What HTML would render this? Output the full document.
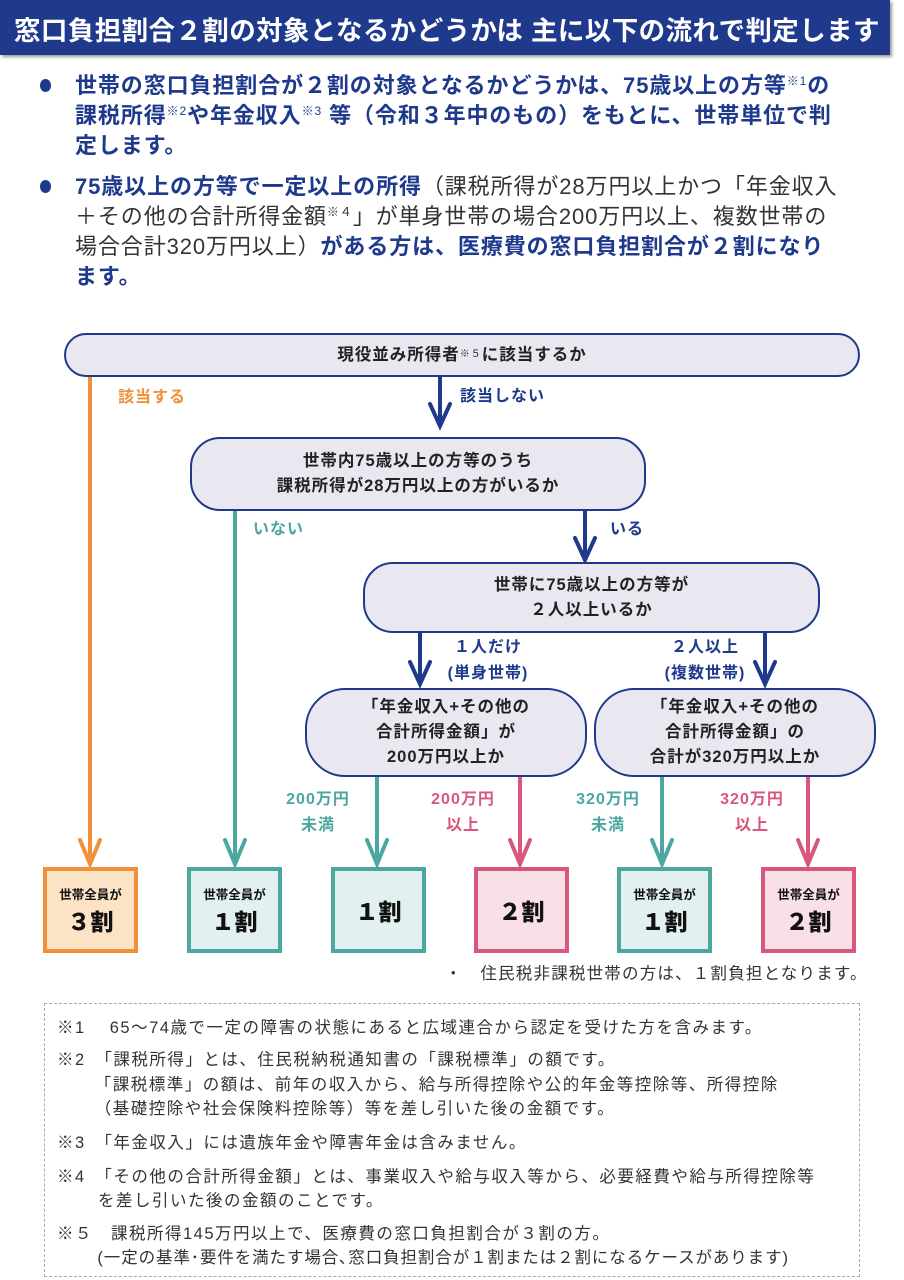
<!DOCTYPE html>
<html><head><meta charset="utf-8"><style>
*{margin:0;padding:0;box-sizing:border-box}
body{width:904px;height:1280px;background:#fff;position:relative;overflow:hidden;font-family:"Liberation Sans","Noto Sans CJK JP",sans-serif}
.a{position:absolute;white-space:nowrap}
.hd{left:0;top:0;width:890px;height:55px;background:#1f3a8c;box-shadow:2px 2px 3px #999}
.hd span{position:absolute;left:14px;top:9px;color:#fff;font-size:26.5px;font-weight:bold;letter-spacing:0.4px}
.b{color:#1f3a8c;font-size:22px;font-weight:bold;letter-spacing:0.9px;line-height:30px}
.n{font-weight:normal;color:#333}
sup{font-size:12px;vertical-align:8px;font-weight:normal;line-height:0}
.dot{width:11px;height:13px;border-radius:50%;background:#1f3a8c}
.box{position:absolute;background:#e9e8f1;border:2px solid #1f3a8c;border-radius:30px;display:flex;align-items:center;justify-content:center;text-align:center;font-weight:bold;font-size:16.5px;color:#222;line-height:25px;letter-spacing:1px}
.lab{position:absolute;font-weight:bold;font-size:16px;text-align:center;line-height:26px;letter-spacing:1px}
.r{position:absolute;top:867px;width:95px;height:86px;border:4px solid;display:flex;flex-direction:column;align-items:center;justify-content:center;font-weight:bold;color:#111}
.r small{font-size:12.5px}
.r b{font-size:23px}
.o{border-color:#f0913a;background:#fde3c6}
.t{border-color:#4ba7a0;background:#e2f1f0}
.p{border-color:#d9577a;background:#f9dfe6}
.fn{position:absolute;left:44px;top:1003px;width:816px;height:274px;border:1.5px dashed #aaa}
.f{position:absolute;font-size:16.5px;letter-spacing:1.5px;color:#333;white-space:nowrap}
</style></head><body>
<div class="a hd"><span>窓口負担割合２割の対象となるかどうかは 主に以下の流れで判定します</span></div>

<div class="a dot" style="left:40px;top:79px"></div>
<div class="a b" style="left:75px;top:71px">世帯の窓口負担割合が２割の対象となるかどうかは、75歳以上の方等<sup>※1</sup>の<br>課税所得<sup>※2</sup>や年金収入<sup>※3</sup> 等（令和３年中のもの）をもとに、世帯単位で判<br>定します。</div>
<div class="a dot" style="left:40px;top:180px"></div>
<div class="a b" style="left:75px;top:172px">75歳以上の方等で一定以上の所得<span class="n">（課税所得が28万円以上かつ「年金収入<br>＋その他の合計所得金額<sup>※４</sup>」が単身世帯の場合200万円以上、複数世帯の<br>場合合計320万円以上）</span>がある方は、医療費の窓口負担割合が２割になり<br>ます。</div>

<svg class="a" style="left:0;top:0" width="904" height="1000">
<g fill="none" stroke-width="4" stroke-linecap="round">
<g stroke="#f0913a"><line x1="90" y1="377" x2="90" y2="862"/><polyline points="80,840 90,864 100,840"/></g>
<g stroke="#4ba7a0"><line x1="235" y1="510" x2="235" y2="862"/><polyline points="225,840 235,864 245,840"/>
<line x1="377" y1="777" x2="377" y2="862"/><polyline points="367,840 377,864 387,840"/>
<line x1="662" y1="777" x2="662" y2="862"/><polyline points="652,840 662,864 672,840"/></g>
<g stroke="#d9577a"><line x1="520" y1="777" x2="520" y2="862"/><polyline points="510,840 520,864 530,840"/>
<line x1="808" y1="777" x2="808" y2="862"/><polyline points="798,840 808,864 818,840"/></g>
<g stroke="#1f3a8c"><line x1="440" y1="377" x2="440" y2="424"/><polyline points="430,404 440,426 450,404"/>
<line x1="585" y1="510" x2="585" y2="558"/><polyline points="575,538 585,560 595,538"/>
<line x1="420" y1="632" x2="420" y2="682"/><polyline points="410,662 420,684 430,662"/>
<line x1="765" y1="632" x2="765" y2="682"/><polyline points="755,662 765,684 775,662"/></g>
</g></svg>

<div class="box" style="left:64px;top:333px;width:796px;height:44px">現役並み所得者<sup style="font-size:10px;vertical-align:6px">※５</sup>に該当するか</div>
<div class="box" style="left:190px;top:437px;width:456px;height:74px">世帯内75歳以上の方等のうち<br>課税所得が28万円以上の方がいるか</div>
<div class="box" style="left:363px;top:562px;width:457px;height:71px">世帯に75歳以上の方等が<br>２人以上いるか</div>
<div class="box" style="left:305px;top:688px;width:282px;height:89px;border-radius:40px">「年金収入+その他の<br>合計所得金額」が<br>200万円以上か</div>
<div class="box" style="left:594px;top:688px;width:282px;height:89px;border-radius:40px">「年金収入+その他の<br>合計所得金額」の<br>合計が320万円以上か</div>

<div class="lab" style="left:118px;top:385px;color:#f0913a">該当する</div>
<div class="lab" style="left:460px;top:384px;color:#1f3a8c">該当しない</div>
<div class="lab" style="left:253px;top:517px;color:#4ba7a0">いない</div>
<div class="lab" style="left:610px;top:517px;color:#1f3a8c">いる</div>
<div class="lab" style="left:438px;top:635px;width:100px;color:#1f3a8c">１人だけ<br>(単身世帯)</div>
<div class="lab" style="left:655px;top:635px;width:100px;color:#1f3a8c">２人以上<br>(複数世帯)</div>
<div class="lab" style="left:268px;top:787px;width:100px;color:#4ba7a0">200万円<br>未満</div>
<div class="lab" style="left:413px;top:787px;width:100px;color:#d9577a">200万円<br>以上</div>
<div class="lab" style="left:558px;top:787px;width:100px;color:#4ba7a0">320万円<br>未満</div>
<div class="lab" style="left:702px;top:787px;width:100px;color:#d9577a">320万円<br>以上</div>

<div class="r o" style="left:43px"><small>世帯全員が</small><b>３割</b></div>
<div class="r t" style="left:187px"><small>世帯全員が</small><b>１割</b></div>
<div class="r t" style="left:331px"><b>１割</b></div>
<div class="r p" style="left:474px"><b>２割</b></div>
<div class="r t" style="left:617px"><small>世帯全員が</small><b>１割</b></div>
<div class="r p" style="left:761px"><small>世帯全員が</small><b>２割</b></div>

<div class="f" style="left:445px;top:960px;font-size:16.5px;letter-spacing:1.2px">・　住民税非課税世帯の方は、１割負担となります。</div>

<div class="fn"></div>
<div class="f" style="left:57px;top:1014px">※1　 65〜74歳で一定の障害の状態にあると広域連合から認定を受けた方を含みます。</div>
<div class="f" style="left:57px;top:1046px">※2　「課税所得」とは、住民税納税通知書の「課税標準」の額です。</div>
<div class="f" style="left:85px;top:1071px">　「課税標準」の額は、前年の収入から、給与所得控除や公的年金等控除等、所得控除</div>
<div class="f" style="left:85px;top:1095px">　（基礎控除や社会保険料控除等）等を差し引いた後の金額です。</div>
<div class="f" style="left:57px;top:1129px">※3　「年金収入」には遺族年金や障害年金は含みません。</div>
<div class="f" style="left:57px;top:1163px">※4　「その他の合計所得金額」とは、事業収入や給与収入等から、必要経費や給与所得控除等</div>
<div class="f" style="left:80px;top:1187px">　を差し引いた後の金額のことです。</div>
<div class="f" style="left:57px;top:1220px">※５　課税所得145万円以上で、医療費の窓口負担割合が３割の方。</div>
<div class="f" style="left:80px;top:1244px;letter-spacing:0.9px">　(一定の基準･要件を満たす場合､窓口負担割合が１割または２割になるケースがあります)</div>
</body></html>
